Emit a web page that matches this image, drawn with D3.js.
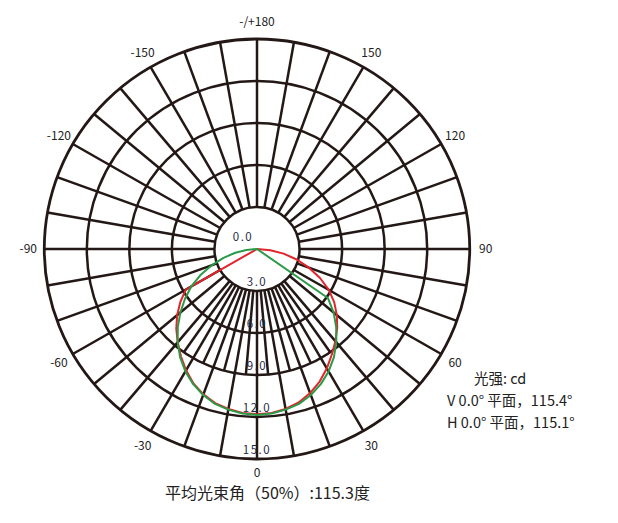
<!DOCTYPE html>
<html><head><meta charset="utf-8">
<script src="https://cdn.jsdelivr.net/npm/d3@7"></script>
<style>body{margin:0;background:#fff}svg{display:block}</style>
</head><body>
<svg id="chart" width="618" height="523"></svg>
<script>
// ---- data ----
const ringValues = [3, 6, 9, 12, 15];
const ringLabels = ["0.0", "3.0", "6.0", "9.0", "12.0", "15.0"];
const ringLabelValues = [0, 3, 6, 9, 12, 15];
const angleTicks = [0, 30, 60, 90, 120, 150, 180, -150, -120, -90, -60, -30];
const angleLabels = ["0", "30", "60", "90", "120", "150", "-/+180", "-150", "-120", "-90", "-60", "-30"];

// V 0.0° plane (red)
const redAngles = [-60, -55, -50, -45, -40, -35, -30, -25, -20, -15, -10, -5, 0, 5, 10, 15, 20, 25, 30, 35, 40, 45, 50, 55, 60, 65, 70, 75, 80, 85, 90];
const redValues = [5.8, 6.6, 7.35, 8.05, 8.7, 9.35, 10.0, 10.6, 11.05, 11.4, 11.6, 11.75, 11.8, 11.75, 11.6, 11.35, 10.95, 10.45, 9.85, 9.2, 8.6, 8.0, 7.35, 6.65, 5.85, 4.9, 3.9, 2.9, 1.9, 0.95, 0.0];
// H 0.0° plane (green)
const greenAngles = [-90, -85, -80, -75, -70, -65, -60, -55, -50, -45, -40, -35, -30, -25, -20, -15, -10, -5, 0, 5, 10, 15, 20, 25, 30, 35, 40, 45, 50, 55];
const greenValues = [0.0, 0.75, 1.55, 2.45, 3.4, 4.4, 5.35, 6.2, 7.05, 7.9, 8.7, 9.45, 10.1, 10.65, 11.1, 11.45, 11.65, 11.8, 11.85, 11.8, 11.65, 11.45, 11.1, 10.65, 10.1, 9.45, 8.7, 7.9, 7.05, 6.1];

const legendLines = ["光强: cd", "V 0.0° 平面，115.4°", "H 0.0° 平面，115.1°"];
const titleText = "平均光束角（50%）:115.3度";

// ---- layout ----
const cx = 257, cy = 249, R = 210, sx = 1.013;
const svg = d3.select("#chart");
const r = d3.scaleLinear().domain([0, 15]).range([0, R]);
const toRad = d => d * Math.PI / 180;
const pt = (deg, v) => [cx + r(v) * sx * Math.sin(toRad(deg)), cy + r(v) * Math.cos(toRad(deg))];

const gridColor = "#231815";
const g = svg.append("g");

// main spokes every 10 degrees, ring 3 -> ring 15
const spokeAngles = d3.range(-180, 180, 10);
g.selectAll("line.spoke").data(spokeAngles).join("line")
  .attr("x1", d => pt(d, 3)[0]).attr("y1", d => pt(d, 3)[1])
  .attr("x2", d => pt(d, 15)[0]).attr("y2", d => pt(d, 15)[1])
  .attr("stroke", gridColor).attr("stroke-width", 2.5);

// finer 5-degree spokes in the lower inner zone
const fineAngles = [-35, -25, -15, -5, 5, 15, 25, 35];
g.selectAll("line.fine").data(fineAngles).join("line")
  .attr("x1", d => pt(d, 3)[0]).attr("y1", d => pt(d, 3)[1])
  .attr("x2", d => pt(d, 9)[0]).attr("y2", d => pt(d, 9)[1])
  .attr("stroke", gridColor).attr("stroke-width", 2.5);

// rings
g.selectAll("ellipse.ring").data(ringValues).join("ellipse")
  .attr("cx", cx).attr("cy", cy)
  .attr("rx", d => r(d) * sx).attr("ry", d => r(d))
  .attr("fill", "none").attr("stroke", gridColor)
  .attr("stroke-width", d => d === 15 ? 2.8 : 2.5);

// curves
const line = d3.line().curve(d3.curveLinear);
function drawCurve(angles, values, color) {
  const pts = angles.map((a, i) => pt(a, values[i]));
  svg.append("path").attr("d", line(pts) + "Z")
    .attr("fill", "none").attr("stroke", color).attr("stroke-width", 2)
    .attr("stroke-linejoin", "round");
}
drawCurve(redAngles, redValues, "#e2242b");
drawCurve(greenAngles, greenValues, "#2a9a48");

// ring labels
const font = "'Noto Sans CJK SC','Noto Sans',sans-serif";
svg.selectAll("text.rl").data(ringLabelValues).join("text")
  .attr("x", (d, i) => i === 0 ? cx - 14 : cx)
  .attr("y", d => d === 0 ? cy - 8 : pt(0, d)[1] - 5)
  .attr("text-anchor", "middle")
  .attr("font-family", font).attr("font-size", 11.5)
  .attr("letter-spacing", 1.5)
  .attr("fill", "#1e2a44")
  .text((d, i) => ringLabels[i]);

// angle labels
svg.selectAll("text.al").data(angleTicks).join("text")
  .attr("x", d => cx + (R * sx + 16) * Math.sin(toRad(d)))
  .attr("y", d => cy + (R + (d === 0 ? 14 : 17)) * Math.cos(toRad(d)))
  .attr("dy", "0.35em")
  .attr("text-anchor", "middle")
  .attr("font-family", font).attr("font-size", 12)
  .attr("fill", "#222")
  .text((d, i) => angleLabels[i]);

// legend
svg.selectAll("text.lg").data(legendLines).join("text")
  .attr("x", (d, i) => i === 0 ? 474 : 447)
  .attr("y", (d, i) => 384 + i * 22)
  .attr("font-family", font).attr("font-size", 14.5)
  .attr("fill", "#222")
  .text(d => d);

// title
svg.append("text").attr("x", 165).attr("y", 499)
  .attr("font-family", font).attr("font-size", 16)
  .attr("fill", "#222").text(titleText);
</script>
</body></html>
